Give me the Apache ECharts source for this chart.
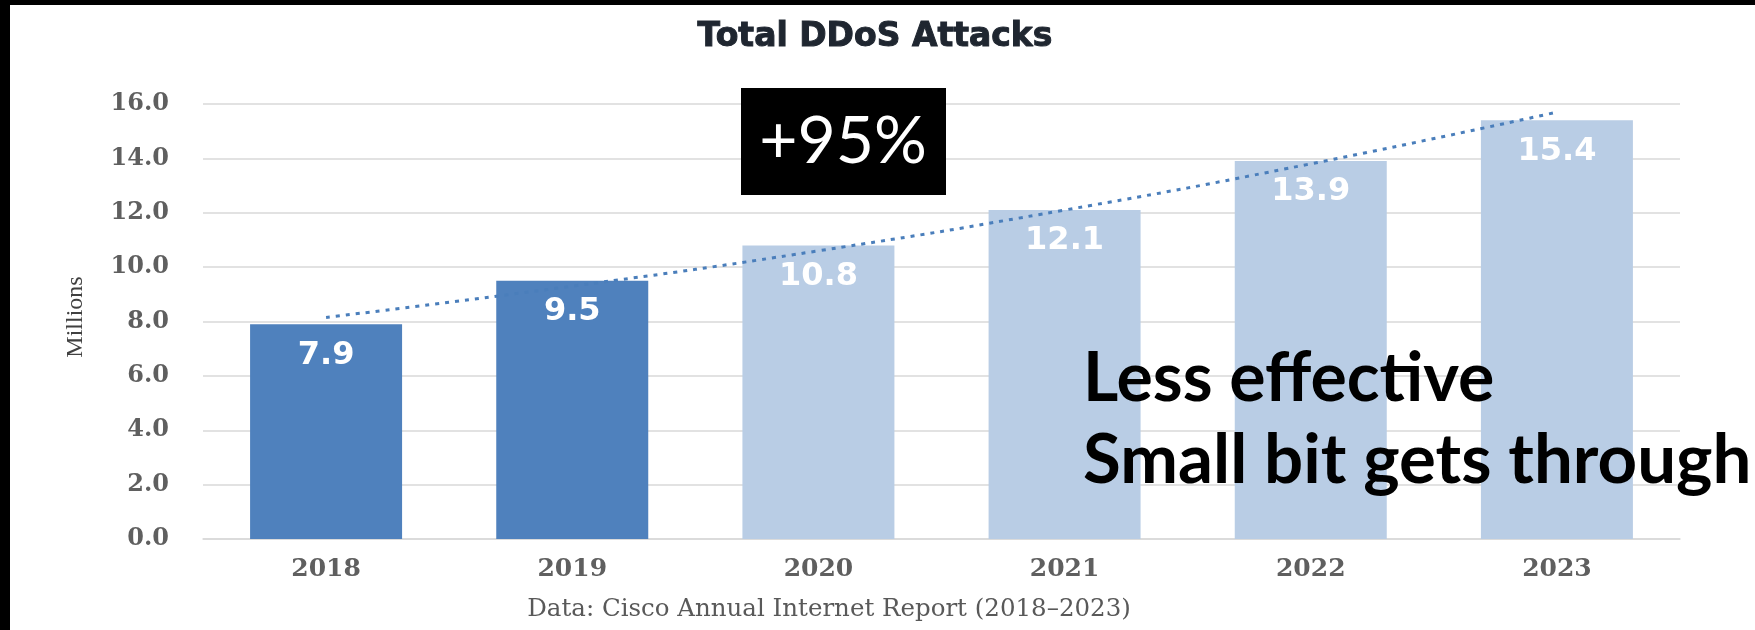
<!DOCTYPE html>
<html>
<head>
<meta charset="utf-8">
<script src="https://cdn.jsdelivr.net/npm/echarts@6/dist/echarts.min.js"></script>
<style>
  html, body { margin: 0; padding: 0; background: #ffffff; }
  #chart { width: 1755px; height: 630px; }
</style>
</head>
<body>
<div id="chart"></div>
<script>
const years = ['2018', '2019', '2020', '2021', '2022', '2023'];
const attacks = [7.9, 9.5, 10.8, 12.1, 13.9, 15.4];
const trendReadings = [8.15, 9.3, 10.6, 12.1, 13.8, 15.7];
const yTicks = { min: 0, max: 16, interval: 2 };
const pastCount = 2;

const chart = echarts.init(document.getElementById('chart'), null, { renderer: 'canvas' });

const option = {
  animation: false,
  backgroundColor: '#ffffff',
  grid: { left: 203, right: 75, top: 104, bottom: 91, containLabel: false },
  xAxis: {
    type: 'category',
    data: years,
    axisLine: { show: true, lineStyle: { color: '#d9d9d9', width: 1.5 } },
    axisTick: { show: false },
    axisLabel: {
      margin: 18,
      fontFamily: 'DejaVu Serif',
      fontWeight: 'bold',
      fontSize: 25,
      color: '#5f5f5f'
    }
  },
  yAxis: {
    type: 'value',
    min: yTicks.min,
    max: yTicks.max,
    interval: yTicks.interval,
    axisLine: { show: false },
    axisTick: { show: false },
    splitLine: { lineStyle: { color: '#d9d9d9', width: 1.5 } },
    axisLabel: {
      margin: 34,
      fontFamily: 'DejaVu Serif',
      fontWeight: 'bold',
      fontSize: 24,
      color: '#5f5f5f',
      formatter: v => v.toFixed(1)
    }
  },
  series: [
    {
      type: 'bar',
      barWidth: 152,
      data: attacks.map((v, i) => ({
        value: v,
        itemStyle: { color: i < pastCount ? '#4f81bd' : '#b9cde5' }
      })),
      label: {
        show: true,
        position: 'insideTop',
        distance: 15,
        fontFamily: 'DejaVu Sans',
        fontWeight: 'bold',
        fontSize: 32,
        color: '#ffffff',
        formatter: p => p.value.toFixed(1)
      },
      z: 2
    },
    {
      type: 'line',
      data: trendReadings,
      symbol: 'none',
      smooth: true,
      lineStyle: { color: '#4a7ebb', width: 3, type: [4, 6] },
      z: 3
    }
  ],
  graphic: [
    { type: 'rect', left: 0, top: 0, shape: { width: 1755, height: 5 }, style: { fill: '#000' }, z: 100 },
    { type: 'rect', left: 0, top: 0, shape: { width: 10, height: 630 }, style: { fill: '#000' }, z: 100 },
    {
      type: 'text', x: 875, y: 37,
      style: { text: 'Total DDoS Attacks', fill: '#1f2630', stroke: '#1f2630', lineWidth: 1, font: 'bold 33px "DejaVu Sans"', align: 'center', verticalAlign: 'middle' },
      z: 50
    },
    {
      type: 'text', x: 76, y: 317, rotation: Math.PI / 2,
      style: { text: 'Millions', fill: '#404040', font: '24px "Liberation Serif"', align: 'center', verticalAlign: 'middle' },
      z: 50
    },
    {
      type: 'text', x: 829, y: 610,
      style: { text: 'Data: Cisco Annual Internet Report (2018\u20132023)', fill: '#595959', font: '24.5px "DejaVu Serif"', align: 'center', verticalAlign: 'middle' },
      z: 50
    },
    { type: 'rect', left: 741, top: 88, shape: { width: 205, height: 107 }, style: { fill: '#000' }, z: 60 },
    {
      type: 'text', x: 843, y: 142,
      style: { text: '+95%', fill: '#ffffff', font: '66px Lato', align: 'center', verticalAlign: 'middle' },
      z: 61
    },
    {
      type: 'text', x: 1083, y: 345,
      style: { text: 'Less effective', fill: '#000000', font: 'bold 68px Lato', align: 'left', verticalAlign: 'top' },
      z: 61
    },
    {
      type: 'text', x: 1083, y: 426,
      style: { text: 'Small bit gets through', fill: '#000000', font: 'bold 69px Lato', align: 'left', verticalAlign: 'top' },
      z: 61
    }
  ]
};

chart.setOption(option);
</script>
</body>
</html>
